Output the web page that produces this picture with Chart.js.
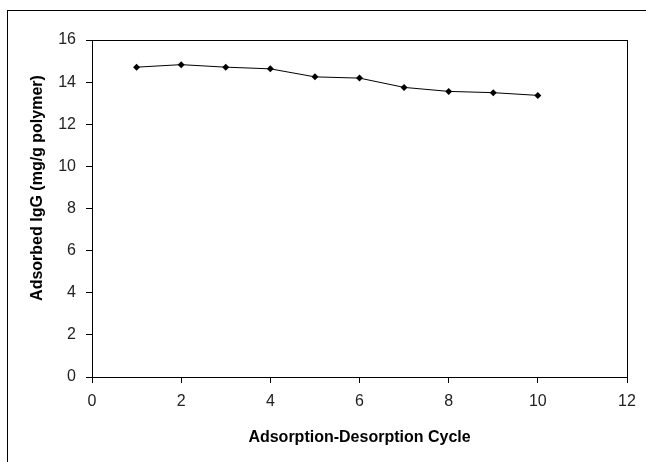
<!DOCTYPE html>
<html>
<head>
<meta charset="utf-8">
<script src="https://cdn.jsdelivr.net/npm/chart.js@4"></script>
<style>
  html, body { margin: 0; padding: 0; background: #fff; }
  #wrap { width: 646px; height: 462px; position: relative; }
</style>
</head>
<body>
<div id="wrap"><canvas id="myChart" width="646" height="462"></canvas></div>
<script>
// data
const cycles = [1, 2, 3, 4, 5, 6, 7, 8, 9, 10]
const adsorbedIgG = [14.71, 14.83, 14.71, 14.63, 14.25, 14.19, 13.75, 13.56, 13.50, 13.37]
const xTicks = [0, 2, 4, 6, 8, 10, 12]
const yTicks = [0, 2, 4, 6, 8, 10, 12, 14, 16]
const yTitle = 'Adsorbed IgG (mg/g polymer)'
const xTitle = 'Adsorption-Desorption Cycle'

// frame round the whole picture, box round the plot area, y title (sits a bit high in the original)
const frames = {
  id: 'frames',
  afterDraw(chart) {
    const ctx = chart.ctx
    const a = chart.chartArea
    ctx.save()
    ctx.strokeStyle = '#000'
    ctx.lineWidth = 1
    ctx.strokeRect(7.5, 10.5, 700, 500)
    ctx.strokeRect(a.left + 0.5, a.top + 0.5, a.right - a.left, a.bottom - a.top)

    ctx.translate(38, 188)
    ctx.rotate(-Math.PI / 2)
    ctx.fillStyle = '#000'
    ctx.font = 'bold 16px "Liberation Sans"'
    ctx.textAlign = 'center'
    ctx.textBaseline = 'middle'
    ctx.fillText(yTitle, 0, 0)
    ctx.restore()
  }
}

const ch = document.getElementById('myChart')

new Chart(ch, {
  type: 'scatter',
  data: {
    datasets: [{
      label: 'Adsorbed IgG',
      data: cycles.map((c, i) => ({x: c, y: adsorbedIgG[i]})),
      showLine: true,
      borderColor: '#000',
      borderWidth: 1,
      backgroundColor: '#000',
      pointStyle: 'rectRot',
      pointRadius: 3.5,
      pointBorderWidth: 0,
    }],
  },
  options: {
    responsive: false,
    animation: false,
    layout: {
      padding: {left: 0, top: 40, right: 19, bottom: 0}
    },
    plugins: {
      legend: {display: false},
      tooltip: {enabled: false},
    },
    scales: {
      x: {
        type: 'linear',
        min: 0,
        max: 12,
        afterBuildTicks: (s) => { s.ticks = xTicks.map(v => ({value: v})) },
        afterFit: (s) => { s.height = 85 },
        grid: {display: true, drawOnChartArea: false, drawTicks: true, tickLength: 6, color: '#000'},
        border: {display: true, color: '#000', width: 1},
        ticks: {
          padding: 9,
          color: '#222',
          font: {family: 'Liberation Sans', size: 16},
        },
        title: {
          display: true,
          text: xTitle,
          color: '#000',
          font: {family: 'Liberation Sans', size: 16, weight: 'bold'},
          padding: {top: 0, bottom: 15},
        },
      },
      y: {
        min: 0,
        max: 16,
        afterBuildTicks: (s) => { s.ticks = yTicks.map(v => ({value: v})) },
        afterFit: (s) => { s.width = 92 },
        grid: {display: true, drawOnChartArea: false, drawTicks: true, tickLength: 6, color: '#000'},
        border: {display: true, color: '#000', width: 1},
        ticks: {
          padding: 10,
          color: '#222',
          font: {family: 'Liberation Sans', size: 16},
        },
        title: {display: false},
      }
    }
  },
  plugins: [frames],
});
</script>
</body>
</html>
